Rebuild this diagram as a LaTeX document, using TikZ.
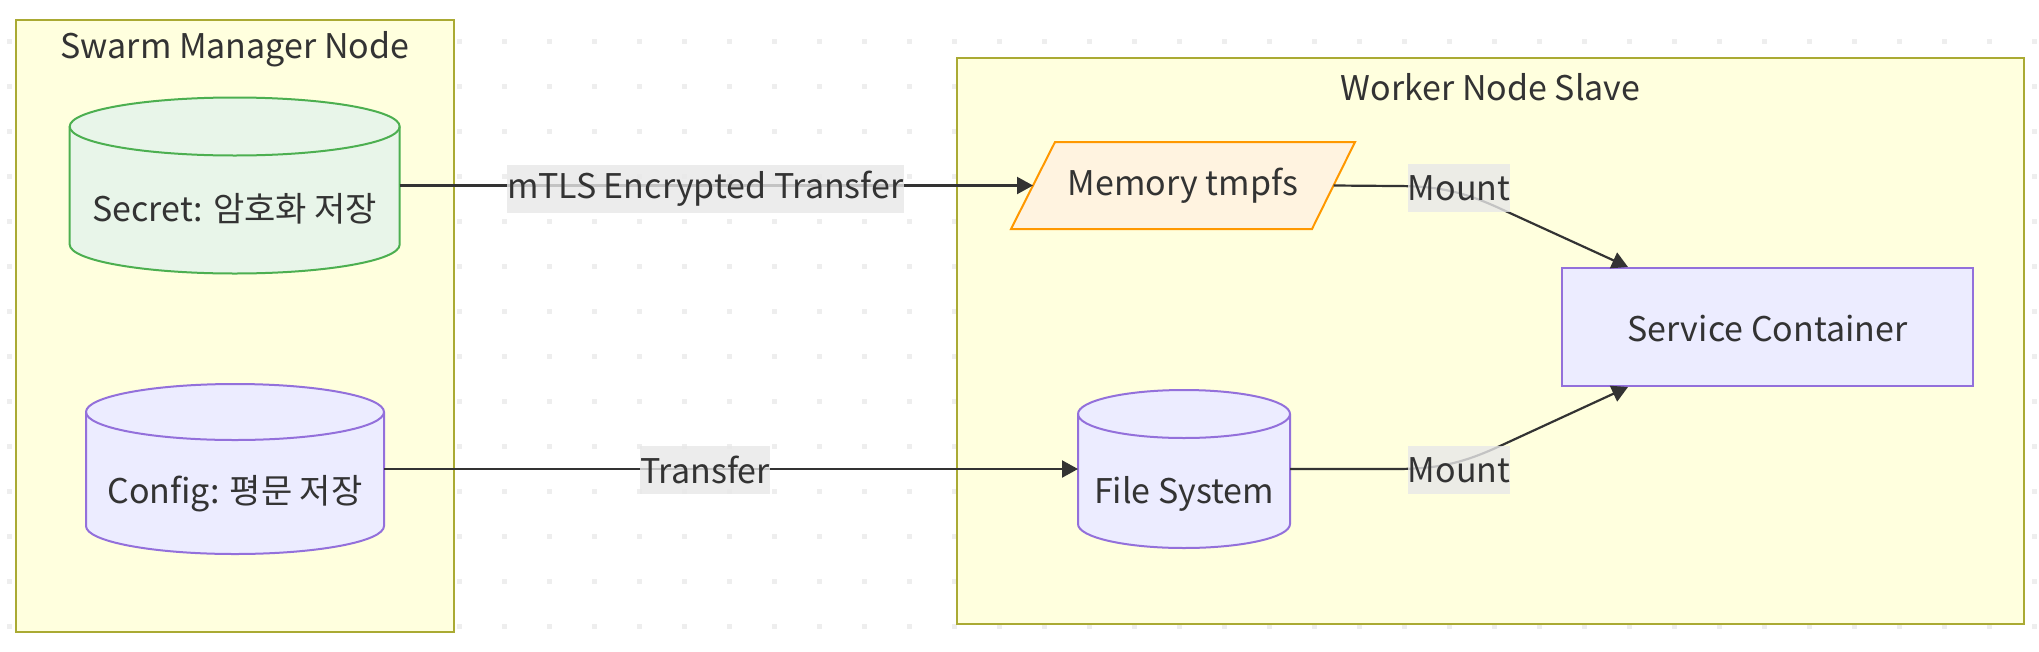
\documentclass[tikz,border=0pt]{standalone}
\usepackage{fontspec}
\setmainfont{Noto Sans CJK KR}
\usetikzlibrary{arrows.meta,calc}
\definecolor{txt}{HTML}{333333}
\definecolor{sgfill}{HTML}{FFFFDE}
\definecolor{sgline}{HTML}{AAAA33}
\definecolor{nfill}{HTML}{ECECFF}
\definecolor{nline}{HTML}{9370DB}
\definecolor{gfill}{HTML}{E8F5E9}
\definecolor{gline}{HTML}{4CAF50}
\definecolor{ofill}{HTML}{FFF3E0}
\definecolor{oline}{HTML}{FF9800}
\definecolor{lblbg}{HTML}{E8E8E8}
\definecolor{dotc}{HTML}{EEEEEE}
\newcommand\mycyl[7]{%
  \path[#7] (#2-#5,-#3-#6) -- (#2-#5,-#4+#6)
     arc[start angle=180,end angle=360,x radius=#5,y radius=#6]
     -- (#2+#5,-#3-#6)
     arc[start angle=0,end angle=180,x radius=#5,y radius=#6] -- cycle;
  \draw[#7,fill=none] (#2-#5,-#3-#6) arc[start angle=180,end angle=360,x radius=#5,y radius=#6];
  \node[anchorbox,minimum width={2*#5pt},minimum height={(#4-#3)*1pt}] (#1) at (#2,{-(#3+#4)/2}) {};%
}
\tikzset{
  x=1pt,y=1pt,
  anchorbox/.style={draw=none,fill=none,inner sep=0pt,outer sep=0pt,shape=rectangle},
  lbl/.style={text=txt,font=\fontsize{34pt}{41pt}\selectfont,inner sep=0pt},
  elbl/.style={lbl,fill=lblbg,fill opacity=0.8,text opacity=1,inner xsep=0pt,minimum height=48pt},
  sg/.style={draw=sgline,fill=sgfill,line width=2pt,inner sep=0pt,shape=rectangle},
  defnode/.style={draw=nline,fill=nfill,line width=2pt},
  greennode/.style={draw=gline,fill=gfill,line width=2pt},
  edge/.style={draw=txt,line width=2.2pt,-{Triangle[length=16pt,width=17pt]}},
}
\begin{document}
\begin{tikzpicture}
\useasboundingbox (0,0) rectangle (2039,-651);
\fill[white] (0,0) rectangle (2039,-651);
\foreach \i in {0,...,45}{\foreach \j in {0,...,13}{
  \fill[dotc] ({7+45*\i},{-39-45*\j}) rectangle ++(5,-5);}}
% subgraphs
\node[sg,minimum width=438.4pt,minimum height=612.5pt] (mgr) at (234.8,-325.75) {};
\node[lbl] (mgrt) at (234.8,-49) {Swarm Manager Node};
\node[sg,minimum width=1067pt,minimum height=566pt] (wrk) at (1490.5,-341) {};
\node[lbl] (wrkt) at (1490.5,-87) {Worker Node Slave};
% cylinders
\mycyl{secret}{234.7}{97.5}{273.5}{165}{29}{greennode}
\node[lbl] (secrett) at (234.7,-209) {Secret: 암호화 저장};
\mycyl{config}{235}{384}{554}{149}{28}{defnode}
\node[lbl] (configt) at (235,-494) {Config: 평문 저장};
\mycyl{fs}{1184}{390}{548}{106}{24}{defnode}
\node[lbl] (fst) at (1184,-494) {File System};
% memory parallelogram
\filldraw[fill=ofill,draw=oline,line width=2pt] (1011,-229) -- (1055,-142) -- (1355,-142) -- (1312,-229) -- cycle;
\node[anchorbox,minimum width=300.5pt,minimum height=87pt] (mem) at (1183.25,-185.5) {};
\node[lbl] (memt) at (1183,-186) {Memory tmpfs};
% service
\node[defnode,shape=rectangle,minimum width=411pt,minimum height=118pt,inner sep=0pt] (svc) at (1767.5,-327) {};
\node[lbl] (svct) at (1767.5,-329) {Service Container};
% edges
\draw[edge] (secret.east) -- (mem.west);
\draw[edge] (config.east) -- (fs.west);
\draw[edge] (mem.east) -- (1395,-186) to[out=0,in=155.3] (1500,-208.5) -- ([xshift=67pt]svc.north west);
\draw[edge] (fs.east) -- (1395,-469) to[out=0,in=-155.3] (1500,-446) -- ([xshift=67pt]svc.south west);
% edge labels
\node[elbl] (l1) at (705.5,-189) {mTLS Encrypted Transfer};
\node[elbl] (l2) at (705,-470) {Transfer};
\node[elbl] (l3) at (1459,-188) {Mount};
\node[elbl] (l4) at (1459,-470) {Mount};
\end{tikzpicture}
\end{document}
